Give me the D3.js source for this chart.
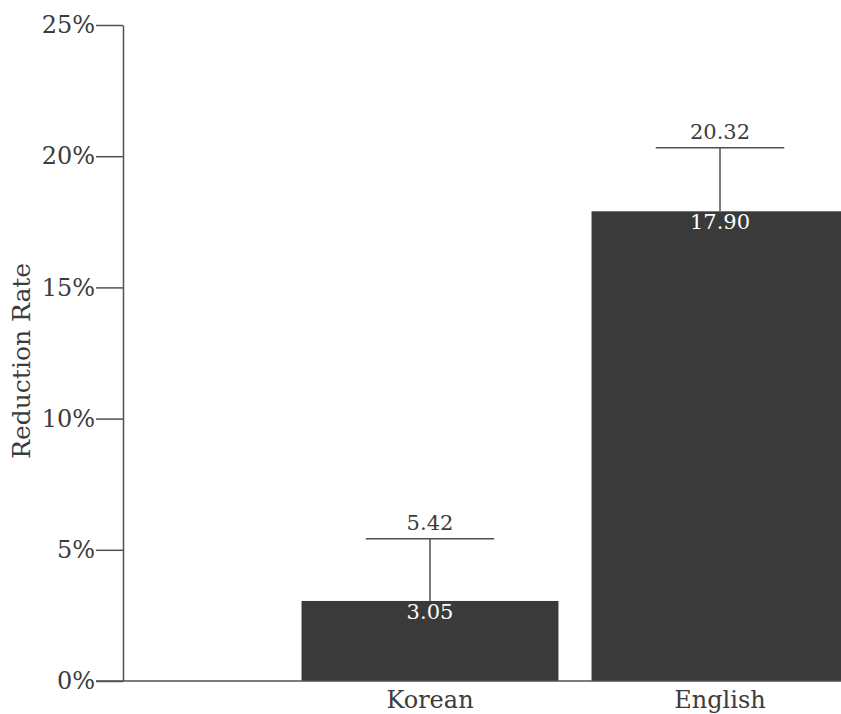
<!DOCTYPE html>
<html>
<head>
<meta charset="utf-8">
<script src="https://cdn.jsdelivr.net/npm/d3@7"></script>
<style>
  body { margin: 0; background: #fff; }
  #chart { width: 841px; height: 714px; }
  text { font-family: "DejaVu Serif", serif; }
</style>
</head>
<body>
<div id="chart"></div>
<script>
//Datos
const categories = ['Korean', 'English'];
const means = [3.05, 17.90];
const upper = [5.42, 20.32];
const yTicks = [0, 5, 10, 15, 20, 25];

//Colores fijos
const COLOR_BAR = '#3a3a3a',
COLOR_AXIS = '#505050',
COLOR_TEXT = '#3c3c3c';

let margin = {top: 25, right: 0, bottom: 33, left: 123},
    width = 841 - margin.left - margin.right,
    height = 714 - margin.top - margin.bottom;

let svg = d3.select('#chart')
    .append('svg')
      .attr('width', 841)
      .attr('height', 714)
    .append('g')
      .attr('transform', 'translate(' + margin.left + ',' + margin.top + ')');

let y = d3.scaleLinear()
    .domain([0, 25])
    .range([height, 0]);

//Bandas: centros en 430 y 720 (el segundo bar se corta en el borde)
let x = d3.scaleBand()
    .domain(categories)
    .range([162, 742])
    .paddingInner(0.114)
    .paddingOuter(0.057);

let data = categories.map((c, i) => ({cat: c, mean: means[i], up: upper[i]}));

//Barras
svg.selectAll('.bar')
    .data(data)
    .enter()
    .append('rect')
      .attr('class', 'bar')
      .attr('x', d => x(d.cat))
      .attr('y', d => y(d.mean))
      .attr('width', x.bandwidth())
      .attr('height', d => y(0) - y(d.mean))
      .attr('fill', COLOR_BAR);

//Barras de error
let capHalf = x.bandwidth() / 4;
let err = svg.selectAll('.err')
    .data(data)
    .enter()
    .append('g')
      .attr('class', 'err')
      .attr('stroke', COLOR_AXIS)
      .attr('stroke-width', 1.5);

err.append('line')
    .attr('x1', d => x(d.cat) + x.bandwidth() / 2)
    .attr('x2', d => x(d.cat) + x.bandwidth() / 2)
    .attr('y1', d => y(d.mean))
    .attr('y2', d => y(d.up));

err.append('line')
    .attr('x1', d => x(d.cat) + x.bandwidth() / 2 - capHalf)
    .attr('x2', d => x(d.cat) + x.bandwidth() / 2 + capHalf)
    .attr('y1', d => y(d.up))
    .attr('y2', d => y(d.up));

//Etiquetas de valores
svg.selectAll('.lab-up')
    .data(data)
    .enter()
    .append('text')
      .attr('x', d => x(d.cat) + x.bandwidth() / 2)
      .attr('y', d => y(d.up) - 9)
      .attr('text-anchor', 'middle')
      .attr('font-size', '21px')
      .attr('fill', COLOR_TEXT)
      .text(d => d.up.toFixed(2));

svg.selectAll('.lab-mean')
    .data(data)
    .enter()
    .append('text')
      .attr('x', d => x(d.cat) + x.bandwidth() / 2)
      .attr('y', d => y(d.mean) + 18)
      .attr('text-anchor', 'middle')
      .attr('font-size', '21px')
      .attr('fill', '#ffffff')
      .text(d => d.mean.toFixed(2));

//Eje Y
let yAxis = svg.append('g')
    .attr('class', 'yaxis')
    .call(d3.axisLeft(y).tickValues(yTicks).tickFormat(d => d + '%').tickSize(27).tickSizeOuter(0).tickPadding(1));

yAxis.selectAll('path, line')
    .attr('stroke', COLOR_AXIS)
    .attr('stroke-width', 1.5);

yAxis.selectAll('text')
    .attr('font-family', '"DejaVu Serif", serif')
    .attr('font-size', '24px')
    .attr('fill', COLOR_TEXT);

//Línea base
svg.append('line')
    .attr('x1', -27)
    .attr('x2', width)
    .attr('y1', y(0))
    .attr('y2', y(0))
    .attr('stroke', COLOR_AXIS)
    .attr('stroke-width', 1.5);

//Categorías
svg.selectAll('.cat')
    .data(data)
    .enter()
    .append('text')
      .attr('x', d => x(d.cat) + x.bandwidth() / 2)
      .attr('y', height + 27)
      .attr('text-anchor', 'middle')
      .attr('font-size', '24px')
      .attr('fill', COLOR_TEXT)
      .text(d => d.cat);

//Título eje Y
svg.append('text')
    .attr('transform', 'translate(' + (-margin.left + 30) + ',' + (y(12.2)) + ') rotate(-90)')
    .attr('text-anchor', 'middle')
    .attr('font-size', '25px')
    .attr('fill', COLOR_TEXT)
    .text('Reduction Rate');
</script>
</body>
</html>
